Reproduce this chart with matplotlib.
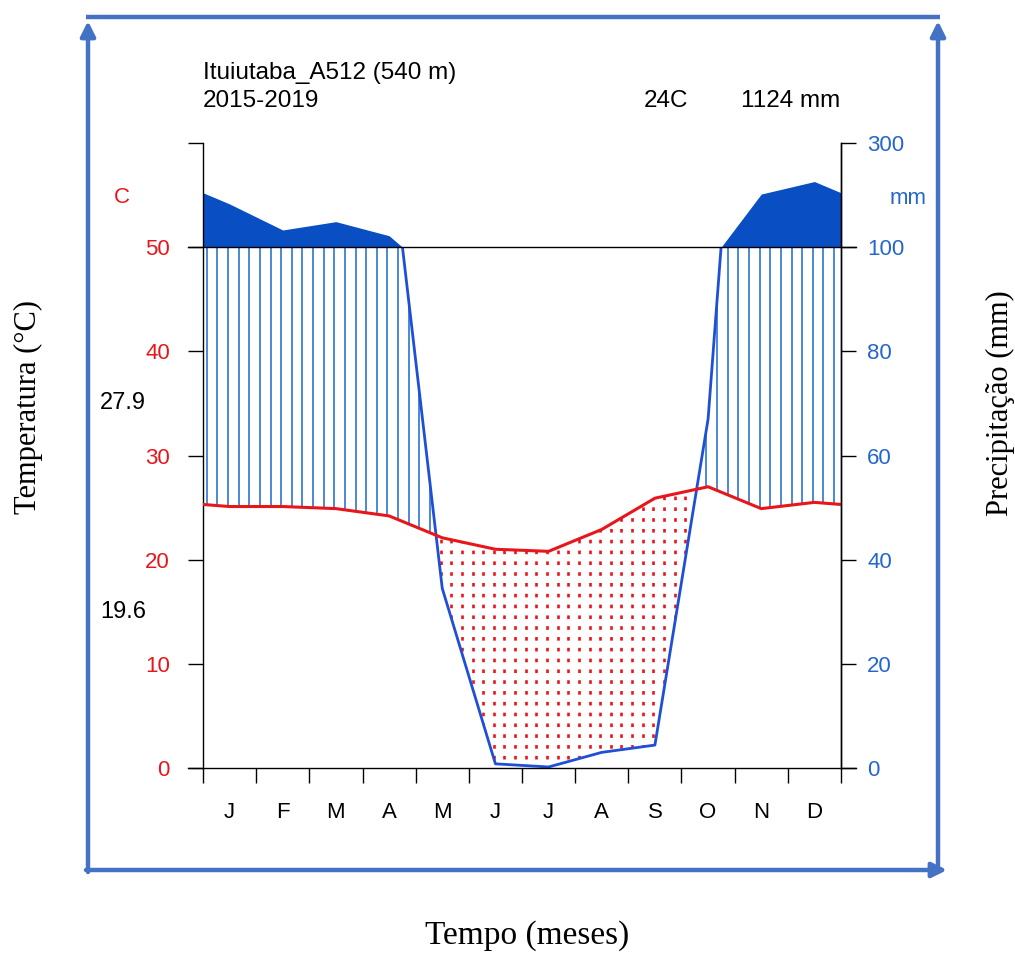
import numpy as np
import matplotlib
matplotlib.use('Agg')
import matplotlib.pyplot as plt
from matplotlib.path import Path
import matplotlib.transforms as mtrans

plt.rcParams['lines.scale_dashes'] = False
plt.rcParams['font.family'] = ['Liberation Sans', 'DejaVu Sans']

# ---------------- data ----------------
station = "Ituiutaba_A512 (540 m)"
period = "2015-2019"
mean_temp_label = "24C"
total_precip_label = "1124 mm"
max_temp_label = "27.9"
min_temp_label = "19.6"
months = ['J', 'F', 'M', 'A', 'M', 'J', 'J', 'A', 'S', 'O', 'N', 'D']
temp = [25.1, 25.1, 24.9, 24.2, 22.1, 21.0, 20.8, 22.9, 25.9, 27.0, 24.9, 25.5]
precip = [183, 133, 149, 122, 34.5, 0.8, 0.2, 3.0, 4.4, 67, 202, 226]
temp_ticks = [0, 10, 20, 30, 40, 50, 60]
temp_tick_labels = ['0', '10', '20', '30', '40', '50', '']
precip_tick_labels = ['0', '20', '40', '60', '80', '100', '300']

# ---------------- colours ----------------
RED = '#E8161B'
BLUE_LINE = '#1F4FD6'
BLUE_FILL = '#0A4EC4'
BLUE_HATCH = '#3D7FD6'
BLUE_TXT = '#2466CC'
FRAME = '#4472C4'

W, H = 1015, 955
fig = plt.figure(figsize=(W / 100, H / 100), dpi=100)
L, R, T, B = 203, 841, 143, 768
ax = fig.add_axes([L / W, 1 - B / H, (R - L) / W, (B - T) / H])
ax.set_xlim(0, 12)
ax.set_ylim(0, 60)


def ptrans(p):
    p = np.asarray(p, dtype=float)
    return np.where(p <= 100, p / 2.0, 50 + (p - 100) / 20.0)


# wrapped monthly series
xm = np.arange(-0.5, 13.0, 1.0)
pe = [precip[-1]] + list(precip) + [precip[0]]
te = [temp[-1]] + list(temp) + [temp[0]]

# insert 100 mm crossings (linear in raw mm)
px, pr = [], []
for i in range(len(xm) - 1):
    px.append(xm[i]); pr.append(pe[i])
    if (pe[i] - 100) * (pe[i + 1] - 100) < 0:
        xc = xm[i] + (100 - pe[i]) / (pe[i + 1] - pe[i])
        px.append(xc); pr.append(100.0)
px.append(xm[-1]); pr.append(pe[-1])
px = np.array(px); pr = np.array(pr)

xs = np.unique(np.concatenate([px, xm, [0.0, 12.0]]))
xs = xs[(xs >= 0) & (xs <= 12)]
raw = np.interp(xs, px, pr)
ft = ptrans(raw)
tt = np.interp(xs, xm, te)
pl = np.minimum(ft, 50)
pu = np.maximum(ft, 50)

# upper (>100 mm) area
ax.fill_between(xs, 50, pu, color=BLUE_FILL, lw=0, zorder=2)

# humid and dry regions used as clip paths
hum = ax.fill_between(xs, tt, pl, where=pl >= tt, interpolate=True,
                      facecolor='none', edgecolor='none')
dry = ax.fill_between(xs, pl, tt, where=tt >= pl, interpolate=True,
                      facecolor='none', edgecolor='none')
hum_path = Path.make_compound_path(*hum.get_paths())
dry_path = Path.make_compound_path(*dry.get_paths())

hx = (np.arange(60) + 0.35) / 5.0
hl = ax.vlines(hx, 0, 60, colors=BLUE_HATCH, lw=1.3, zorder=3)
hl.set_clip_path(hum_path, ax.transData)

on, period_pt = 2.6, 7.78
dl = ax.vlines(hx, 0, 60, colors=RED, lw=1.9, zorder=3,
               linestyles=[(on / 2, (on, period_pt - on))])
dl.set_clip_path(dry_path, ax.transData)

# precipitation line (below 100 mm) and temperature line
pl_line = np.where(raw <= 100, ft, np.nan)
ax.plot(xs, pl_line, color=BLUE_LINE, lw=2.0, zorder=5, solid_capstyle='butt')
ax.plot(xs, tt, color=RED, lw=2.2, zorder=6)

# 50 / 100 mm line and base line, extended like tick length
ext = 0.28
ax.plot([-ext, 12 + ext], [50, 50], color='black', lw=1.0, zorder=7, clip_on=False)
ax.plot([-ext, 12 + ext], [0, 0], color='black', lw=1.0, zorder=7, clip_on=False)

# axes styling
for s in ['top', 'bottom']:
    ax.spines[s].set_visible(False)
for s in ['left', 'right']:
    ax.spines[s].set_linewidth(1.0)
ax.set_xticks(range(13))
ax.set_xticklabels([])
ax.tick_params(axis='x', direction='out', length=10.8, width=1.0)
ax.set_yticks(temp_ticks)
ax.set_yticklabels(temp_tick_labels)
ax.tick_params(axis='y', direction='out', length=10.8, width=1.0,
               labelsize=16, labelcolor=RED, pad=13)

ax2 = ax.twinx()
ax2.set_ylim(0, 60)
for s in ['top', 'bottom', 'left']:
    ax2.spines[s].set_visible(False)
ax2.spines['right'].set_linewidth(1.0)
ax2.set_yticks(temp_ticks)
ax2.set_yticklabels(precip_tick_labels)
ax2.tick_params(axis='y', direction='out', length=10.8, width=1.0,
                labelsize=16, labelcolor=BLUE_TXT, pad=8)

# month labels
xt = mtrans.blended_transform_factory(ax.transData, ax.transAxes)
for i, m in enumerate(months):
    ax.text(i + 0.5, -(812 - 768) / 625, m, transform=xt, ha='center',
            va='center', fontsize=16, color='black')

# extra labels
yt = mtrans.blended_transform_factory(ax.transAxes, ax.transData)
ax.text((122 - L) / (R - L), 54.8, 'C', transform=yt, ha='center', va='center',
        fontsize=16, color=RED)
ax.text((908 - L) / (R - L), 54.7, 'mm', transform=yt, ha='center', va='center',
        fontsize=16, color=BLUE_TXT)
ax.text((146 - L) / (R - L), 35, max_temp_label, transform=yt, ha='right',
        va='center', fontsize=17, color='black')
ax.text((146 - L) / (R - L), 15, min_temp_label, transform=yt, ha='right',
        va='center', fontsize=17, color='black')

# header
fig.text(203 / W, 1 - 73 / H, station, ha='left', va='center', fontsize=17.5)
fig.text(203 / W, 1 - 101 / H, period, ha='left', va='center', fontsize=17.5)
fig.text(688 / W, 1 - 101 / H, mean_temp_label, ha='right', va='center', fontsize=17.5)
fig.text(840 / W, 1 - 101 / H, total_precip_label, ha='right', va='center', fontsize=17.5)

# axis titles (serif)
serif = ['Liberation Serif', 'DejaVu Serif']
fig.text(28 / W, 1 - 407 / H, 'Temperatura (°C)', rotation=90, ha='center',
         va='center', fontsize=22, family=serif)
fig.text(1000 / W, 1 - 403 / H, 'Precipitação (mm)', rotation=90, ha='center',
         va='center', fontsize=22, family=serif)
fig.text(527 / W, 1 - 936 / H, 'Tempo (meses)', ha='center', va='center',
         fontsize=24, family=serif)

# blue frame with arrows (pixel overlay)
ov = fig.add_axes([0, 0, 1, 1], zorder=10)
ov.set_xlim(0, W)
ov.set_ylim(H, 0)
ov.axis('off')
lwf = 3.2
ov.plot([86, 940], [17, 17], color=FRAME, lw=lwf, solid_capstyle='butt')
arrow = dict(arrowstyle='-|>', lw=lwf, color=FRAME, mutation_scale=22,
             shrinkA=0, shrinkB=0)
ov.annotate('', xy=(88, 21), xytext=(88, 872), arrowprops=arrow)
ov.annotate('', xy=(938, 21), xytext=(938, 872), arrowprops=arrow)
ov.annotate('', xy=(947, 870), xytext=(86, 870), arrowprops=arrow)

fig.savefig('out.png', dpi=100, facecolor='white')
